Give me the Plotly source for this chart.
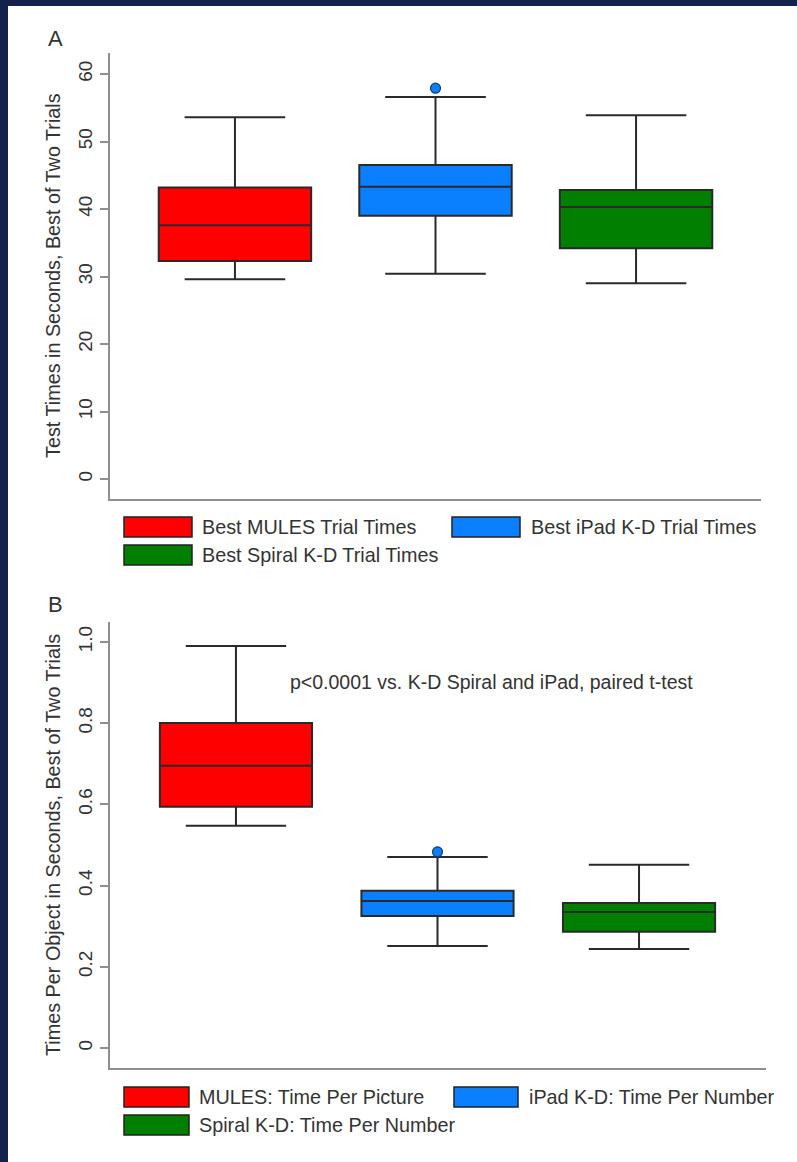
import plotly.graph_objects as go

W, H = 797, 1162

# ---------------- data ----------------
positions = [0, 1, 2]
colors = ["#FF0000", "#0A80FF", "#007F00"]

groups_a = ["Best MULES Trial Times", "Best iPad K-D Trial Times", "Best Spiral K-D Trial Times"]
a_lower = [29.6, 30.4, 29.0]
a_q1 = [32.3, 39.0, 34.2]
a_median = [37.6, 43.3, 40.3]
a_q3 = [43.2, 46.5, 42.8]
a_upper = [53.6, 56.6, 53.9]
a_outlier_pos = [1]
a_outlier_val = [57.9]
a_ticks = [0, 10, 20, 30, 40, 50, 60]
a_ticktext = ["0", "10", "20", "30", "40", "50", "60"]

groups_b = ["MULES: Time Per Picture", "iPad K-D: Time Per Number", "Spiral K-D: Time Per Number"]
b_lower = [0.547, 0.251, 0.244]
b_q1 = [0.594, 0.325, 0.286]
b_median = [0.695, 0.362, 0.335]
b_q3 = [0.800, 0.387, 0.357]
b_upper = [0.990, 0.470, 0.451]
b_outlier_pos = [1]
b_outlier_val = [0.483]
b_ticks = [0, 0.2, 0.4, 0.6, 0.8, 1.0]
b_ticktext = ["0", "0.2", "0.4", "0.6", "0.8", "1.0"]

title_a = "Test Times in Seconds, Best of Two Trials"
title_b = "Times Per Object in Seconds, Best of Two Trials"
ptext = "p<0.0001 vs. K-D Spiral and iPad, paired t-test"

# ---------------- helpers ----------------
def px(x):
    return x / W

def py(y):
    return 1 - y / H

FONT = "Liberation Sans, Arial, Helvetica, sans-serif"
TXT = "#333333"
AXC = "#8f8f8f"
BOXLINE = "#2a2a2a"

fig = go.Figure()

def add_panel(xa, ya, lower, q1, med, q3, upper, opos, oval, width):
    for i, p in enumerate(positions):
        fig.add_trace(go.Box(
            x=[p], lowerfence=[lower[i]], q1=[q1[i]], median=[med[i]],
            q3=[q3[i]], upperfence=[upper[i]],
            width=width, whiskerwidth=0.66,
            fillcolor=colors[i], line=dict(color=BOXLINE, width=2),
            boxpoints=False, showlegend=False, hoverinfo="skip",
            xaxis=xa, yaxis=ya,
        ))
    fig.add_trace(go.Scatter(
        x=opos, y=oval, mode="markers",
        marker=dict(size=10, color=colors[1], line=dict(color="#1a3a6a", width=1.2)),
        showlegend=False, hoverinfo="skip", xaxis=xa, yaxis=ya,
    ))

add_panel("x", "y", a_lower, a_q1, a_median, a_q3, a_upper, a_outlier_pos, a_outlier_val, 0.76)
add_panel("x2", "y2", b_lower, b_q1, b_median, b_q3, b_upper, b_outlier_pos, b_outlier_val, 0.755)

xcommon = dict(showline=True, linecolor=AXC, linewidth=2, showgrid=False, zeroline=False,
               showticklabels=False, ticks="", fixedrange=True)
ycommon = dict(showline=True, linecolor=AXC, linewidth=2, showgrid=False, zeroline=False,
               ticks="outside", ticklen=8, tickwidth=2, tickcolor=AXC, tickangle=-90,
               tickfont=dict(family=FONT, size=19, color=TXT), fixedrange=True)

fig.update_layout(
    width=W, height=H,
    margin=dict(l=0, r=0, t=0, b=0),
    paper_bgcolor="white", plot_bgcolor="white",
    boxmode="overlay",
    font=dict(family=FONT, color=TXT),
    xaxis=dict(domain=[px(110), px(761)], range=[-0.623, 2.623], anchor="y", **xcommon),
    yaxis=dict(domain=[py(499), py(53)], range=[-2.96, 63.11], anchor="x",
               tickvals=a_ticks, ticktext=a_ticktext, **ycommon),
    xaxis2=dict(domain=[px(110), px(766)], range=[-0.625, 2.63], anchor="y2", **xcommon),
    yaxis2=dict(domain=[py(1068), py(622)], range=[-0.0493, 1.049], anchor="x2",
                tickvals=b_ticks, ticktext=b_ticktext, **ycommon),
)

ann = []
shapes = []

# axis titles
ann.append(dict(text=title_a, x=px(53), y=py(276), xref="paper", yref="paper",
                textangle=-90, showarrow=False, font=dict(size=19.8, color=TXT, family=FONT),
                xanchor="center", yanchor="middle"))
ann.append(dict(text=title_b, x=px(53), y=py(845), xref="paper", yref="paper",
                textangle=-90, showarrow=False, font=dict(size=19.8, color=TXT, family=FONT),
                xanchor="center", yanchor="middle"))
# panel labels
ann.append(dict(text="A", x=px(55), y=py(38), xref="paper", yref="paper", showarrow=False,
                font=dict(size=22, color=TXT, family=FONT), xanchor="center", yanchor="middle"))
ann.append(dict(text="B", x=px(55), y=py(604), xref="paper", yref="paper", showarrow=False,
                font=dict(size=22, color=TXT, family=FONT), xanchor="center", yanchor="middle"))
# p-value note
ann.append(dict(text=ptext, x=px(288), y=py(682), xref="paper", yref="paper", showarrow=False,
                font=dict(size=19.5, color=TXT, family=FONT), xanchor="left", yanchor="middle"))

# legends
def legend(groups, rows_y, col_x, text_x):
    # order: item0 row0 col0, item1 row0 col1, item2 row1 col0
    slots = [(0, 0), (1, 0), (0, 1)]
    for i, g in enumerate(groups):
        c, r = slots[i]
        y0, y1 = rows_y[r]
        x0, x1 = col_x[c]
        shapes.append(dict(type="rect", xref="paper", yref="paper",
                           x0=px(x0), x1=px(x1), y0=py(y1), y1=py(y0),
                           fillcolor=colors[i], line=dict(color="#222222", width=1.5)))
        ann.append(dict(text=g, x=px(text_x[c]), y=py((y0 + y1) / 2), xref="paper", yref="paper",
                        showarrow=False, xanchor="left", yanchor="middle",
                        font=dict(size=19.8, color=TXT, family=FONT)))

legend(groups_a, [(517, 537), (545, 565)], [(124, 192), (452, 520)], [200, 529])
legend(groups_b, [(1087, 1107), (1115, 1135)], [(124, 189), (454, 518)], [197, 527])

# navy frame (left and top)
NAVY = "#14214A"
shapes.append(dict(type="rect", xref="paper", yref="paper", x0=0, x1=px(8), y0=0, y1=1,
                   fillcolor=NAVY, line=dict(width=0), layer="above"))
shapes.append(dict(type="rect", xref="paper", yref="paper", x0=0, x1=1, y0=py(6), y1=1,
                   fillcolor=NAVY, line=dict(width=0), layer="above"))

fig.update_layout(annotations=ann, shapes=shapes)
fig.write_html("out.html")
